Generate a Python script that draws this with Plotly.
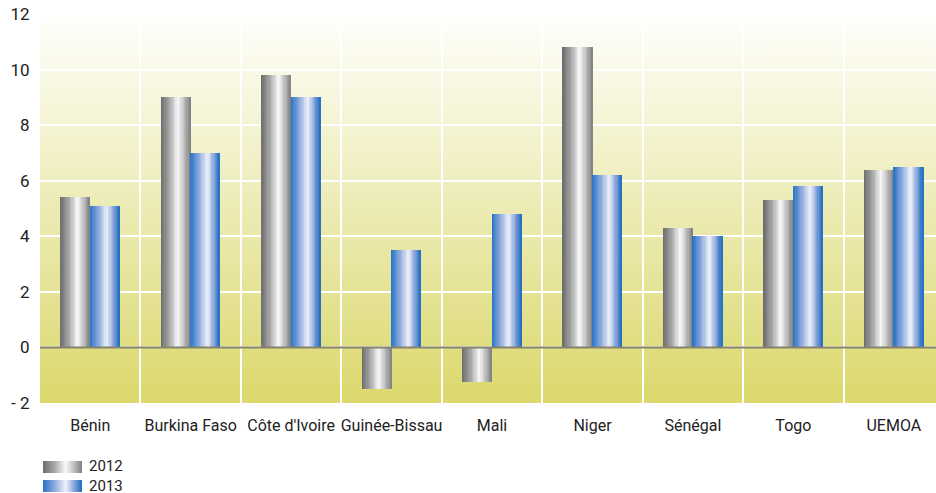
import base64
import plotly.graph_objects as go

# ---- data ----
categories = ["Bénin", "Burkina Faso", "Côte d'Ivoire", "Guinée-Bissau", "Mali",
              "Niger", "Sénégal", "Togo", "UEMOA"]
series_names = ["2012", "2013"]
values_2012 = [5.4, 9.0, 9.8, -1.5, -1.25, 10.8, 4.3, 5.3, 6.4]
values_2013 = [5.1, 7.0, 9.0, 3.5, 4.8, 6.2, 4.0, 5.8, 6.5]
y_tickvals = [-2, 0, 2, 4, 6, 8, 10, 12]
y_ticktext = ["- 2", "0", "2", "4", "6", "8", "10", "12"]

FONT = "Roboto, Liberation Sans, sans-serif"
FS = 16
FS_Y = 17

gray_stops = [(0.0, "#6b6b6b"), (0.3, "#a8a8a8"), (0.58, "#fafafa"), (0.8, "#bdbdbd"), (1.0, "#808080")]
blue_stops = [(0.0, "#2572c6"), (0.3, "#8eaadc"), (0.58, "#eef2fb"), (0.82, "#7e9ed6"), (1.0, "#1a6cc0")]


def hex2rgb(h):
    h = h.lstrip("#")
    return tuple(int(h[i:i + 2], 16) for i in (0, 2, 4))


def interp(stops, f):
    for (f0, c0), (f1, c1) in zip(stops, stops[1:]):
        if f0 <= f <= f1:
            t = (f - f0) / (f1 - f0) if f1 > f0 else 0
            a, b = hex2rgb(c0), hex2rgb(c1)
            return "rgb(%d,%d,%d)" % tuple(round(a[i] + (b[i] - a[i]) * t) for i in range(3))
    return stops[-1][1]


def svg_uri(stops, horizontal):
    x2, y2 = ("1", "0") if horizontal else ("0", "1")
    st = "".join('<stop offset="%g" stop-color="%s"/>' % (o, c) for o, c in stops)
    svg = ('<svg xmlns="http://www.w3.org/2000/svg" width="100" height="100" viewBox="0 0 100 100" '
           'preserveAspectRatio="none"><defs><linearGradient id="g" x1="0" y1="0" x2="%s" y2="%s">%s'
           '</linearGradient></defs><rect width="100" height="100" fill="url(#g)"/></svg>') % (x2, y2, st)
    return "data:image/svg+xml;base64," + base64.b64encode(svg.encode()).decode()


x_pos = list(range(len(categories)))
bw = 0.294
N = 24
sw = bw / N

fig = go.Figure()
for vals, stops, base in [(values_2012, gray_stops, -bw), (values_2013, blue_stops, 0.0)]:
    for k in range(N):
        f = (k + 0.5) / N
        fig.add_trace(go.Bar(
            x=x_pos, y=vals, width=sw * 1.08, offset=base + k * sw,
            marker=dict(color=interp(stops, f), line=dict(width=0)),
            showlegend=False, hoverinfo="skip"))

bg_stops = [(0.0, "#ffffff"), (0.04, "#fdfdf7"), (1.0, "#dbd86c")]

images = [dict(source=svg_uri(bg_stops, False), xref="paper", yref="paper", x=0, y=1,
               sizex=1, sizey=1, xanchor="left", yanchor="top", sizing="stretch", layer="below")]
# custom legend (gradient swatches + one two-line label)
leg_y = [-0.1490, -0.1980]
for stops, yy in zip([gray_stops, blue_stops], leg_y):
    images.append(dict(source=svg_uri(stops, True), xref="paper", yref="paper", x=0.0034, y=yy,
                       sizex=0.0435, sizey=0.031, xanchor="left", yanchor="top",
                       sizing="stretch", layer="above"))
annotations = [dict(text="<br>".join(series_names), xref="paper", yref="paper", x=0.0525,
                    y=-0.1887, xanchor="left", yanchor="middle", align="left", showarrow=False,
                    font=dict(family=FONT, size=15, color="#222222"))]

fig.update_layout(
    width=936, height=493,
    margin=dict(l=40, r=0, t=14, b=90),
    paper_bgcolor="white", plot_bgcolor="rgba(0,0,0,0)",
    barmode="overlay", bargap=0,
    images=images, annotations=annotations,
    font=dict(family=FONT, size=FS, color="#222222"),
    shapes=[dict(type="line", xref="paper", x0=0, x1=1, yref="y", y0=0, y1=0,
                 line=dict(color="#84826a", width=2), layer="above")],
    xaxis=dict(range=[-0.5, 8.42], tickmode="array", tickvals=x_pos, ticktext=categories,
               tickangle=0, showgrid=False, zeroline=False, showline=False,
               ticks="outside", ticklen=8, tickcolor="rgba(0,0,0,0)",
               tickfont=dict(family=FONT, size=FS, color="#222222"),
               minor=dict(tickmode="array", tickvals=[i + 0.5 for i in x_pos[:-1]],
                          showgrid=True, gridcolor="white", gridwidth=2, ticks="")),
    yaxis=dict(range=[-2, 12], tickmode="array", tickvals=y_tickvals, ticktext=y_ticktext,
               showgrid=True, gridcolor="white", gridwidth=1.5, zeroline=False, showline=False,
               ticks="outside", ticklen=6, tickcolor="rgba(0,0,0,0)",
               tickfont=dict(family=FONT, size=FS_Y, color="#222222")),
)

fig.write_html("out.html")
